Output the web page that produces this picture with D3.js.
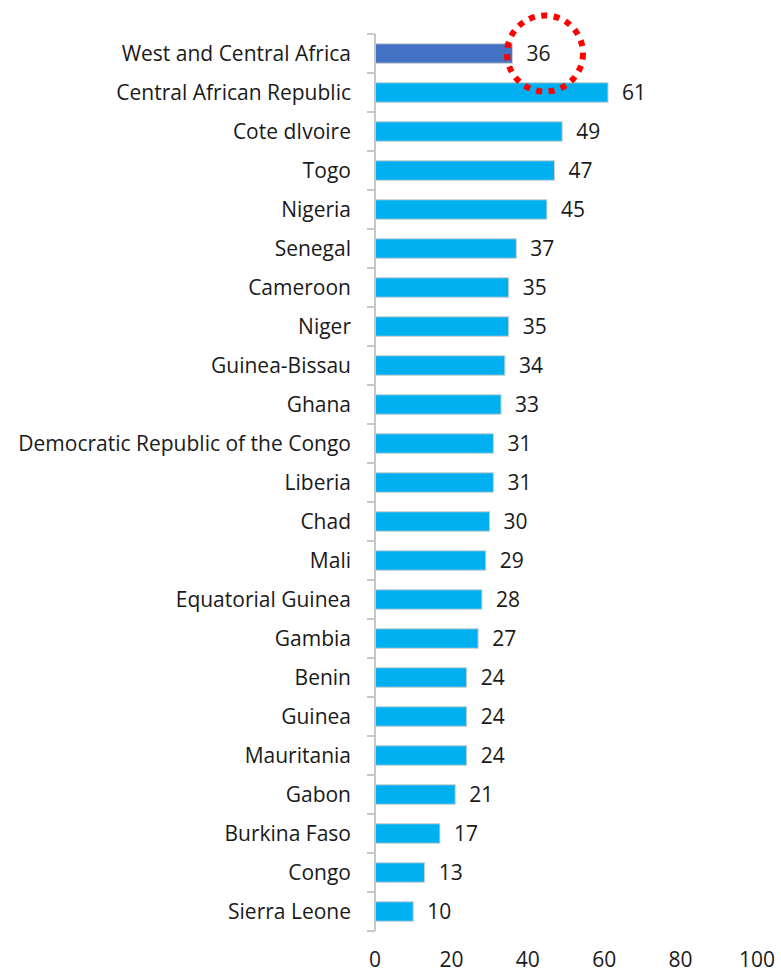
<!DOCTYPE html>
<html>
<head>
<meta charset="utf-8">
<script src="https://cdn.jsdelivr.net/npm/d3@7"></script>
<style>
  body { margin: 0; background: #fff; }
  text { font-family: "Open Sans", sans-serif; fill: #1a1a1a; }
</style>
</head>
<body>
<script>
const countries = ['West and Central Africa', 'Central African Republic', 'Cote dIvoire', 'Togo', 'Nigeria',
  'Senegal', 'Cameroon', 'Niger', 'Guinea-Bissau', 'Ghana', 'Democratic Republic of the Congo',
  'Liberia', 'Chad', 'Mali', 'Equatorial Guinea', 'Gambia', 'Benin', 'Guinea', 'Mauritania',
  'Gabon', 'Burkina Faso', 'Congo', 'Sierra Leone']
const values = [36, 61, 49, 47, 45, 37, 35, 35, 34, 33, 31, 31, 30, 29, 28, 27, 24, 24, 24, 21, 17, 13, 10]
const xTicks = [0, 20, 40, 60, 80, 100]

var width = 781,
    height = 974
var margin = {top: 34, right: 24, bottom: 43, left: 375}

var svg = d3.select('body').append('svg')
    .attr('width', width)
    .attr('height', height)

var x = d3.scaleLinear()
    .domain([0, 100])
    .range([margin.left, 757])

var y = d3.scaleBand()
    .domain(countries)
    .range([margin.top, height - margin.bottom])
    .paddingInner(0.5)
    .paddingOuter(0.25)

// bars
svg.selectAll('.bar')
    .data(countries).enter()
    .append('rect')
    .attr('class', 'bar')
    .attr('x', x(0))
    .attr('y', d => y(d))
    .attr('width', (d, i) => x(values[i]) - x(0))
    .attr('height', y.bandwidth())
    .attr('fill', (d, i) => i === 0 ? '#4472C4' : '#00B0F0')
    .attr('stroke', '#d0d0d0')
    .attr('stroke-width', 1)

// value labels
svg.selectAll('.val')
    .data(countries).enter()
    .append('text')
    .attr('class', 'val')
    .attr('x', (d, i) => x(values[i]) + 14)
    .attr('y', d => y(d) + y.bandwidth() / 2)
    .attr('dy', '0.36em')
    .style('font-size', '21px')
    .text((d, i) => values[i])

// category axis
var yAxis = svg.append('g')
    .attr('transform', `translate(${x(0)},0)`)
var step = y.step()
var bounds = d3.range(countries.length + 1).map(i => y.range()[0] + i * step)
yAxis.append('line')
    .attr('x1', 0).attr('x2', 0)
    .attr('y1', bounds[0]).attr('y2', bounds[bounds.length - 1])
    .attr('stroke', '#c8c8c8').attr('stroke-width', 2)
yAxis.selectAll('.tick')
    .data(bounds).enter()
    .append('line')
    .attr('x1', -8).attr('x2', 0)
    .attr('y1', d => d).attr('y2', d => d)
    .attr('stroke', '#c8c8c8').attr('stroke-width', 2)
yAxis.selectAll('.lab')
    .data(countries).enter()
    .append('text')
    .attr('x', -24)
    .attr('y', d => y(d) + y.bandwidth() / 2)
    .attr('dy', '0.36em')
    .attr('text-anchor', 'end')
    .style('font-size', '21px')
    .text(d => d)

// value axis labels only
svg.append('g')
    .selectAll('text')
    .data(xTicks).enter()
    .append('text')
    .attr('x', d => x(d))
    .attr('y', 959)
    .attr('dy', '0.36em')
    .attr('text-anchor', 'middle')
    .style('font-size', '21px')
    .text(String)

// red dotted highlight
svg.append('circle')
    .attr('cx', x(44.5))
    .attr('cy', y(countries[0]) + y.bandwidth() / 2)
    .attr('r', 38)
    .attr('fill', 'none')
    .attr('stroke', '#ff0000')
    .attr('stroke-width', 6)
    .attr('stroke-dasharray', '6 6.5')
</script>
</body>
</html>
